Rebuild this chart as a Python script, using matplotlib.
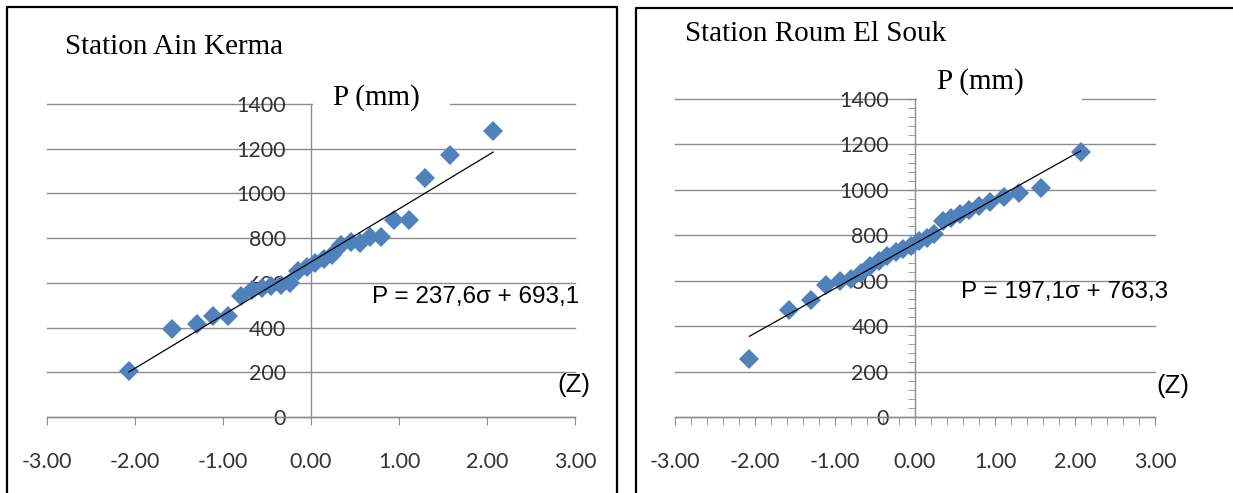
import numpy as np
import matplotlib
matplotlib.use("Agg")
import matplotlib.pyplot as plt
from matplotlib.lines import Line2D
from matplotlib.patches import Rectangle
from matplotlib.ticker import MultipleLocator

# --- data -----------------------------------------------------------------------
# reduced normal variable (Z) for the 26 ranked annual totals
z_values = [-2.07, -1.58, -1.30, -1.11, -0.94, -0.80, -0.674, -0.557, -0.449,
            -0.345, -0.243, -0.145, -0.048, 0.048, 0.145, 0.243, 0.345, 0.449,
            0.557, 0.674, 0.80, 0.94, 1.11, 1.30, 1.58, 2.07]

p_ain_kerma = [205, 392, 415, 450, 450, 542, 566, 578, 588, 592, 600, 655, 670,
               688, 705, 725, 768, 782, 780, 805, 806, 881, 881, 1068, 1170, 1280]

p_roum_el_souk = [254, 470, 517, 580, 597, 608, 635, 665, 688, 708, 728, 740, 752,
                  775, 790, 805, 865, 878, 895, 910, 930, 946, 968, 985, 1006, 1168]

stations = ["Station Ain Kerma", "Station Roum El Souk"]
slopes = [237.6, 197.1]
intercepts = [693.1, 763.3]
equations = ["P = 237,6\u03c3 + 693,1", "P = 197,1\u03c3 + 763,3"]

x_ticks = [-3, -2, -1, 0, 1, 2, 3]
x_tick_labels = ["-3.00", "-2.00", "-1.00", "0.00", "1.00", "2.00", "3.00"]
y_ticks = [0, 200, 400, 600, 800, 1000, 1200, 1400]

# --- style ----------------------------------------------------------------------
W, H = 1233, 493
BLUE = "#4F81BD"
GRID = "#8c8c8c"
TICK_TXT = "#333333"
SERIF = ["Liberation Serif", "DejaVu Serif"]
SANS = ["Liberation Sans", "DejaVu Sans"]
CAL = ["Lato", "DejaVu Sans"]

fig = plt.figure(figsize=(W / 100, H / 100), dpi=100)


def frac(x, y):
    """pixel (from top-left) -> figure fraction"""
    return x / W, 1 - y / H


def axes_box(x0, x1, y_top, y_bot):
    return [x0 / W, 1 - y_bot / H, (x1 - x0) / W, (y_bot - y_top) / H]


# panel layout in pixels: (x at -3, x at +3, y at 1400, y at 0)
boxes = [(47, 575, 104, 417), (675, 1155, 99, 417)]
title_pos = [(65, 47), (685, 34)]
pmm_pos = [(333, 98), (937, 82)]
eq_pos = [(372, 297), (961, 292)]
z_pos = [(557, 385), (1156, 386)]
gap_end = [1.58, 2.09]
minor = [False, True]

for i, series in enumerate([p_ain_kerma, p_roum_el_souk]):
    ax = fig.add_axes(axes_box(*boxes[i]))
    ax.set_xlim(-3, 3)
    ax.set_ylim(0, 1400)
    ax.set_facecolor("none")

    for s in ("top", "right"):
        ax.spines[s].set_visible(False)
    ax.spines["left"].set_position(("data", 0))
    for s in ("left", "bottom"):
        ax.spines[s].set_color(GRID)
        ax.spines[s].set_linewidth(1.0)

    ax.set_xticks(x_ticks)
    ax.set_xticklabels(x_tick_labels, fontfamily=CAL, fontsize=15.5, color=TICK_TXT)
    ax.set_yticks(y_ticks)
    ax.set_yticklabels([str(v) for v in y_ticks], fontfamily=CAL, fontsize=15.5, color=TICK_TXT)
    ax.tick_params(axis="x", direction="out", length=6, color=GRID, pad=19)
    if minor[i]:
        ax.xaxis.set_minor_locator(MultipleLocator(0.2))
        ax.yaxis.set_minor_locator(MultipleLocator(40))
        ax.tick_params(axis="x", which="minor", direction="out", length=6, color=GRID)
        ax.tick_params(axis="y", which="both", direction="out", length=5, color=GRID, pad=14)
    else:
        ax.tick_params(axis="y", length=0, pad=18)

    ax.grid(axis="y", color=GRID, linewidth=1.0)
    ax.set_axisbelow(True)
    for gl in ax.get_ygridlines():
        gl.set_clip_on(False)

    # white gap in the top gridline where the axis title sits
    ax.add_patch(Rectangle((0.02, 1380), gap_end[i] - 0.02, 40, facecolor="white",
                           edgecolor="none", zorder=1, clip_on=False))

    ax.plot(z_values, series, linestyle="none", marker="D", markersize=10,
            markerfacecolor=BLUE, markeredgewidth=0, zorder=3, clip_on=False)

    zz = np.array([min(z_values), max(z_values)])
    ax.plot(zz, slopes[i] * zz + intercepts[i], color="black", linewidth=0.9, zorder=4)

    fig.text(*frac(*title_pos[i]), stations[i], fontfamily=SERIF, fontsize=21,
             ha="left", va="center")
    fig.text(*frac(*pmm_pos[i]), "P (mm)", fontfamily=SERIF, fontsize=21,
             ha="left", va="center", zorder=5)
    fig.text(*frac(*eq_pos[i]), equations[i], fontfamily=SANS, fontsize=17.5,
             ha="left", va="center")
    fig.text(*frac(*z_pos[i]), "(Z)", fontfamily=SANS, fontsize=18.5,
             ha="left", va="center")

# panel frames
frame = dict(color="black", linewidth=1.6, transform=fig.transFigure)
fig.add_artist(Line2D(*zip(frac(7, 493), frac(7, 7), frac(617, 7), frac(617, 493)), **frame))
fig.add_artist(Line2D(*zip(frac(636, 493), frac(636, 8), frac(1233, 8)), **frame))

fig.savefig("out.png", dpi=100)
